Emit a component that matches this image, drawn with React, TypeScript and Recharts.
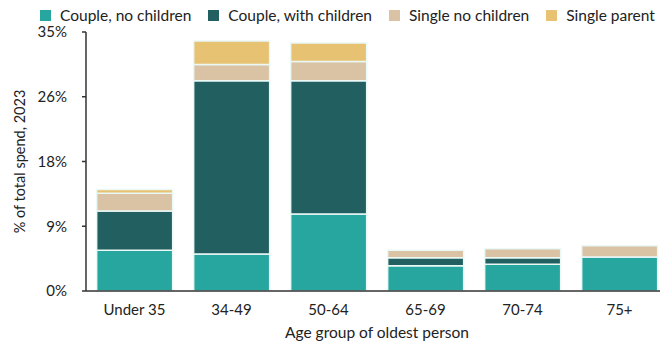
import React from "react";
import { BarChart, Bar, XAxis, YAxis, Legend, Label } from "recharts";

const categories = ["Under 35", "34-49", "50-64", "65-69", "70-74", "75+"];
const coupleNoChildren = [5.5, 5.0, 10.4, 3.4, 3.6, 4.6];
const coupleWithChildren = [5.3, 23.4, 18.0, 1.1, 0.9, 0];
const singleNoChildren = [2.4, 2.2, 2.6, 1.0, 1.2, 1.5];
const singleParent = [0.5, 3.2, 2.5, 0, 0, 0];
const yTicks = [0, 8.75, 17.5, 26.25, 35];
const boundaryTicks = [1, 2, 3, 4, 5];

const data = categories.map((c, i) => ({
  name: c,
  a: coupleNoChildren[i],
  b: coupleWithChildren[i],
  c: singleNoChildren[i],
  d: singleParent[i],
}));

const FONT = "Lato, 'Open Sans', sans-serif";
const stroke = "#eaf8f6";

const LegendContent = (props: any) => {
  const { payload } = props;
  return (
    <div style={{ display: "flex", alignItems: "center", fontFamily: FONT, fontSize: 15.5, color: "#222", whiteSpace: "nowrap" }}>
      {(payload || []).map((p: any, i: number) => (
        <div key={i} style={{ display: "flex", alignItems: "center", marginRight: 17 }}>
          <span style={{ display: "inline-block", width: 11, height: 11, background: p.color, marginRight: 9 }} />
          <span>{p.value}</span>
        </div>
      ))}
    </div>
  );
};

export default function App() {
  return (
    <div style={{ fontFamily: FONT }}>
      <BarChart
        width={660}
        height={334}
        data={data}
        margin={{ top: 24, right: 0, bottom: 0, left: 0 }}
        barCategoryGap="11%"
      >
        <XAxis
          xAxisId="bnd"
          type="number"
          domain={[0, 6]}
          ticks={boundaryTicks}
          allowDataOverflow
          height={0}
          axisLine={false}
          tick={false}
          tickSize={4}
          mirror
          tickLine={{ stroke: "#333", strokeWidth: 1.5 }}
        />
        <XAxis
          dataKey="name"
          height={51}
          tickLine={false}
          axisLine={{ stroke: "#333", strokeWidth: 1.5 }}
          tick={{ fill: "#222", fontSize: 15, fontFamily: FONT }}
          tickMargin={7}
        >
          <Label
            value="Age group of oldest person"
            position="insideBottom"
            offset={4}
            style={{ fill: "#222", fontSize: 15.5, fontFamily: FONT }}
          />
        </XAxis>
        <YAxis
          width={78}
          domain={[0, 35]}
          ticks={yTicks}
          interval={0}
          tickFormatter={(v: number) => `${Math.round(v)}%`}
          axisLine={{ stroke: "#333", strokeWidth: 1.5 }}
          tickLine={{ stroke: "#333", strokeWidth: 1.5 }}
          tickSize={4}
          tickMargin={15}
          tick={{ fill: "#222", fontSize: 15, fontFamily: FONT }}
        >
          <Label
            value="% of total spend, 2023"
            angle={-90}
            position="center"
            dx={-27}
            style={{ fill: "#222", fontSize: 14.5, fontFamily: FONT, textAnchor: "middle" }}
          />
        </YAxis>
        <Legend
          verticalAlign="middle"
          layout="horizontal"
          content={<LegendContent />}
          wrapperStyle={{ top: -2, left: 32, width: 640 }}
        />
        <Bar dataKey="a" name="Couple, no children" stackId="s" fill="#27a6a0" stroke={stroke} strokeWidth={1.5} isAnimationActive={false} />
        <Bar dataKey="b" name="Couple, with children" stackId="s" fill="#215f60" stroke={stroke} strokeWidth={1.5} isAnimationActive={false} />
        <Bar dataKey="c" name="Single no children" stackId="s" fill="#d9c3a4" stroke={stroke} strokeWidth={1.5} isAnimationActive={false} />
        <Bar dataKey="d" name="Single parent" stackId="s" fill="#e7c273" stroke={stroke} strokeWidth={1.5} isAnimationActive={false} />
      </BarChart>
    </div>
  );
}
